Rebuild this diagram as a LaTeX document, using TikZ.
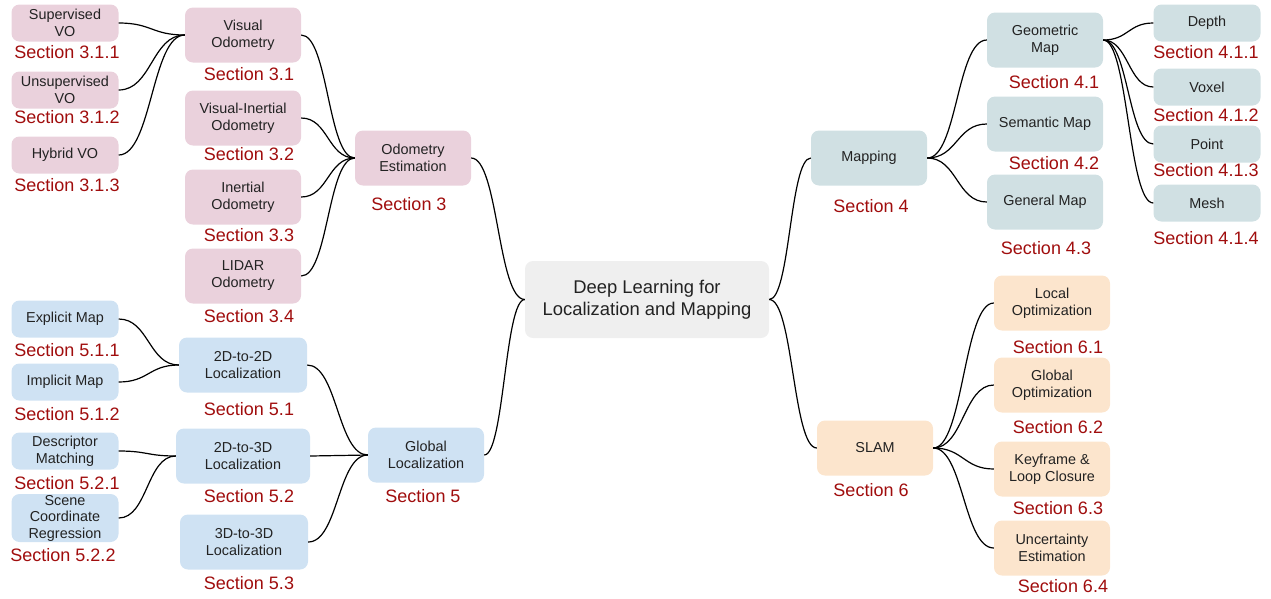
\documentclass[tikz,border=0pt]{standalone}
\usepackage{fontspec}
\setmainfont{Liberation Sans}
\definecolor{pinkbox}{HTML}{EAD1DC}
\definecolor{tealbox}{HTML}{D0E0E3}
\definecolor{bluebox}{HTML}{CFE2F3}
\definecolor{peachbox}{HTML}{FCE5CD}
\definecolor{graybox}{HTML}{EFEFEF}
\definecolor{secred}{HTML}{A00D0D}
\definecolor{boxtext}{HTML}{222222}
\newcommand\mmlink[3]{\draw[linkline] (#1) .. controls +(#3,0) and +(-#3,0) .. (#2);}
\begin{document}
\begin{tikzpicture}[x=1pt,y=-1pt,
  mmbox/.style={rounded corners=8pt, align=center, inner sep=0pt, text=boxtext, font=\fontsize{14.4}{17}\selectfont},
  midbox/.style={mmbox, minimum width=116pt, minimum height=55pt},
  leafbox/.style={mmbox, minimum width=107pt, minimum height=37pt},
  seclabel/.style={text=secred, inner sep=0pt, font=\fontsize{18}{20}\selectfont},
  linkline/.style={draw=black, line width=1.2pt}]
\useasboundingbox (0,0) rectangle (1271,598);

% main
\node[mmbox, fill=graybox, minimum width=244pt, minimum height=77pt, font=\fontsize{18.4}{22}\selectfont] (main) at (647,299.5) {Deep Learning for\\Localization and Mapping};

% odometry
\node[leafbox, fill=pinkbox] (sup) at (65,23) {Supervised\\VO};
\node[leafbox, fill=pinkbox] (unsup) at (65,90) {Unsupervised\\VO};
\node[leafbox, fill=pinkbox] (hyb) at (65,155) {Hybrid VO};
\node[midbox, fill=pinkbox] (vo) at (243,35) {Visual\\Odometry};
\node[midbox, fill=pinkbox] (vio) at (243,118) {Visual-Inertial\\Odometry};
\node[midbox, fill=pinkbox] (io) at (243,197) {Inertial\\Odometry};
\node[midbox, fill=pinkbox] (lo) at (243,276) {LIDAR\\Odometry};
\node[midbox, fill=pinkbox] (oe) at (413,158) {Odometry\\Estimation};
\node[seclabel] (s311) at (67,52) {Section 3.1.1};
\node[seclabel] (s312) at (67,117) {Section 3.1.2};
\node[seclabel] (s313) at (67,185) {Section 3.1.3};
\node[seclabel] (s31) at (249,74) {Section 3.1};
\node[seclabel] (s32) at (249,154) {Section 3.2};
\node[seclabel] (s33) at (249,235) {Section 3.3};
\node[seclabel] (s34) at (249,316) {Section 3.4};
\node[seclabel] (s3) at (409,204) {Section 3};

% mapping
\node[midbox, fill=tealbox] (map) at (869,158) {Mapping};
\node[midbox, fill=tealbox] (geo) at (1045,40) {Geometric\\Map};
\node[midbox, fill=tealbox] (sem) at (1045,124) {Semantic Map};
\node[midbox, fill=tealbox] (gen) at (1045,202) {General Map};
\node[leafbox, fill=tealbox] (depth) at (1207,23) {Depth};
\node[leafbox, fill=tealbox] (voxel) at (1207,87) {Voxel};
\node[leafbox, fill=tealbox] (point) at (1207,144) {Point};
\node[leafbox, fill=tealbox] (mesh) at (1207,203) {Mesh};
\node[seclabel] (s4) at (871,206) {Section 4};
\node[seclabel] (s41) at (1054,82) {Section 4.1};
\node[seclabel] (s42) at (1054,163) {Section 4.2};
\node[seclabel] (s43) at (1046,248) {Section 4.3};
\node[seclabel] (s411) at (1206,52) {Section 4.1.1};
\node[seclabel] (s412) at (1206,115) {Section 4.1.2};
\node[seclabel] (s413) at (1206,170) {Section 4.1.3};
\node[seclabel] (s414) at (1206,238) {Section 4.1.4};

% global localization
\node[leafbox, fill=bluebox] (expl) at (65,319) {Explicit Map};
\node[leafbox, fill=bluebox] (impl) at (65,382) {Implicit Map};
\node[leafbox, fill=bluebox] (desc) at (65,451) {Descriptor\\Matching};
\node[leafbox, fill=bluebox, minimum height=48pt, font=\fontsize{14.4}{16.5}\selectfont] (scene) at (65,518) {Scene\\Coordinate\\Regression};
\node[midbox, fill=bluebox, minimum width=128pt] (l22) at (243,365) {2D-to-2D\\Localization};
\node[midbox, fill=bluebox, minimum width=134pt] (l23) at (243,456) {2D-to-3D\\Localization};
\node[midbox, fill=bluebox, minimum width=128pt] (l33) at (244,542) {3D-to-3D\\Localization};
\node[midbox, fill=bluebox] (gl) at (426,455) {Global\\Localization};
\node[seclabel] (s511) at (67,350) {Section 5.1.1};
\node[seclabel] (s512) at (67,414) {Section 5.1.2};
\node[seclabel] (s521) at (67,483) {Section 5.2.1};
\node[seclabel] (s522) at (63,555) {Section 5.2.2};
\node[seclabel] (s51) at (249,409) {Section 5.1};
\node[seclabel] (s52) at (249,496) {Section 5.2};
\node[seclabel] (s53) at (249,583) {Section 5.3};
\node[seclabel] (s5) at (423,496) {Section 5};

% SLAM
\node[midbox, fill=peachbox] (slam) at (875,448) {SLAM};
\node[midbox, fill=peachbox] (lopt) at (1052,303) {Local\\Optimization};
\node[midbox, fill=peachbox] (gopt) at (1052,385) {Global\\Optimization};
\node[midbox, fill=peachbox] (kf) at (1052,469) {Keyframe \&\\Loop Closure};
\node[midbox, fill=peachbox] (unc) at (1052,548) {Uncertainty\\Estimation};
\node[seclabel] (s6) at (871,490) {Section 6};
\node[seclabel] (s61) at (1058,347) {Section 6.1};
\node[seclabel] (s62) at (1058,427) {Section 6.2};
\node[seclabel] (s63) at (1058,508) {Section 6.3};
\node[seclabel] (s64) at (1063,586) {Section 6.4};

% links
\mmlink{sup.east}{vo.west}{33}
\mmlink{unsup.east}{vo.west}{33}
\mmlink{hyb.east}{vo.west}{33}
\mmlink{vo.east}{oe.west}{27}
\mmlink{vio.east}{oe.west}{27}
\mmlink{io.east}{oe.west}{27}
\mmlink{lo.east}{oe.west}{27}
\mmlink{oe.east}{main.west}{27}
\mmlink{expl.east}{l22.west}{30}
\mmlink{impl.east}{l22.west}{30}
\mmlink{desc.east}{l23.west}{29}
\mmlink{scene.east}{l23.west}{29}
\mmlink{l22.east}{gl.west}{30}
\mmlink{l23.east}{gl.west}{29}
\mmlink{l33.east}{gl.west}{30}
\mmlink{gl.east}{main.west}{20}
\mmlink{main.east}{map.west}{21}
\mmlink{main.east}{slam.west}{24}
\mmlink{map.east}{geo.west}{30}
\mmlink{map.east}{sem.west}{30}
\mmlink{map.east}{gen.west}{30}
\mmlink{geo.east}{depth.west}{25}
\mmlink{geo.east}{voxel.west}{25}
\mmlink{geo.east}{point.west}{25}
\mmlink{geo.east}{mesh.west}{25}
\mmlink{slam.east}{lopt.west}{30}
\mmlink{slam.east}{gopt.west}{30}
\mmlink{slam.east}{kf.west}{30}
\mmlink{slam.east}{unc.west}{30}
\end{tikzpicture}
\end{document}
